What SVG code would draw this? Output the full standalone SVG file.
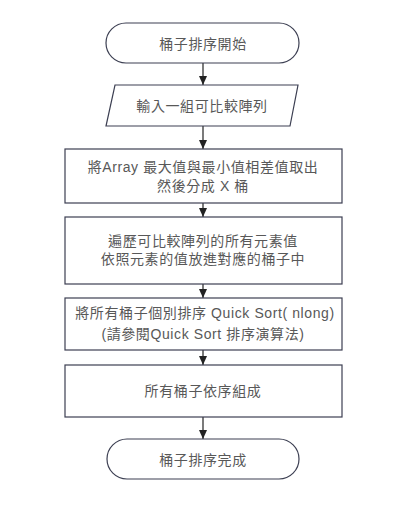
<svg xmlns="http://www.w3.org/2000/svg" width="416" height="519" viewBox="0 0 416 519">
<style>
.s{fill:#ffffff;stroke:#3c3f52;stroke-width:1.2}
.t{font-family:"Liberation Sans","Noto Sans CJK TC",sans-serif;font-size:14px;letter-spacing:0.6px;fill:#585858;text-anchor:middle;dominant-baseline:central}
.c{stroke:#222;stroke-width:1.2;fill:none}
</style>
<defs>
<marker id="arr" markerWidth="9" markerHeight="8" refX="9" refY="4" orient="auto" markerUnits="userSpaceOnUse">
<path d="M0,0 L9,4 L0,8 Z" fill="#222"/>
</marker>
</defs>
<rect width="416" height="519" fill="#ffffff"/>
<g id="connectors">
<line class="c" x1="203" y1="63" x2="203" y2="85" marker-end="url(#arr)"/>
<line class="c" x1="203" y1="126" x2="203" y2="149" marker-end="url(#arr)"/>
<line class="c" x1="203" y1="203" x2="203" y2="217" marker-end="url(#arr)"/>
<line class="c" x1="203" y1="284" x2="203" y2="298" marker-end="url(#arr)"/>
<line class="c" x1="203" y1="350" x2="203" y2="365" marker-end="url(#arr)"/>
<line class="c" x1="203" y1="417" x2="203" y2="439" marker-end="url(#arr)"/>
</g>
<g id="start">
<rect class="s" x="106" y="23" width="193" height="40" rx="20" ry="20"/>
<text class="t" x="203" y="44">桶子排序開始</text>
</g>
<g id="input">
<polygon class="s" points="115,85 298,85 290,126 106,126"/>
<text class="t" x="202" y="106">輸入一組可比較陣列</text>
</g>
<g id="step1">
<rect class="s" x="65" y="149" width="277" height="54"/>
<text class="t" x="203" y="167">將Array 最大值與最小值相差值取出</text>
<text class="t" x="203" y="186">然後分成 X 桶</text>
</g>
<g id="step2">
<rect class="s" x="65" y="217" width="277" height="67"/>
<text class="t" x="203" y="241">遍歷可比較陣列的所有元素值</text>
<text class="t" x="203" y="259">依照元素的值放進對應的桶子中</text>
</g>
<g id="step3">
<rect class="s" x="65" y="298" width="277" height="52"/>
<text class="t" x="205" y="313">將所有桶子個別排序 Quick Sort( nlong)</text>
<text class="t" x="203" y="334">(請參閱Quick Sort 排序演算法)</text>
</g>
<g id="step4">
<rect class="s" x="65" y="365" width="277" height="52"/>
<text class="t" x="203" y="391">所有桶子依序組成</text>
</g>
<g id="end">
<rect class="s" x="107" y="439" width="192" height="40" rx="20" ry="20"/>
<text class="t" x="203" y="460">桶子排序完成</text>
</g>
</svg>
